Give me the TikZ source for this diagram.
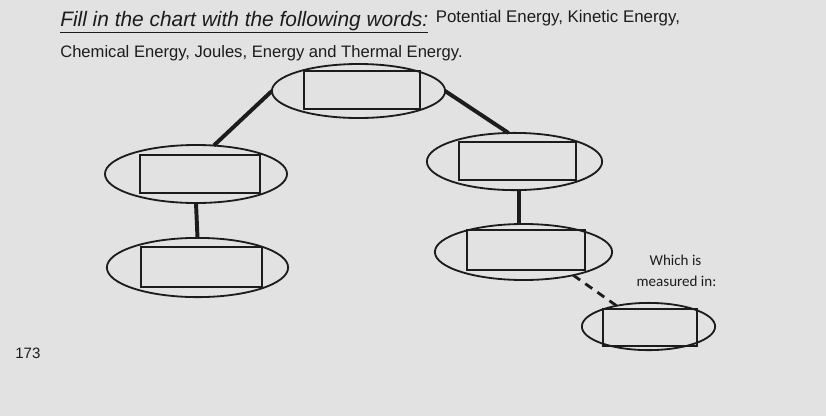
\documentclass[tikz,border=0pt]{standalone}
\usepackage{fontspec}
\setmainfont{Liberation Sans}
\newfontfamily\notefont{Carlito}
\usetikzlibrary{shapes.geometric}

\definecolor{paper}{RGB}{226,226,226}
\definecolor{ink}{RGB}{28,28,28}

\begin{document}
\begin{tikzpicture}[x=0.025cm,y=-0.025cm,
  blob/.style={ellipse,draw=ink,line width=1.3pt,inner sep=0pt,outer sep=0pt},
  slot/.style={rectangle,draw=ink,line width=1.3pt,inner sep=0pt,outer sep=0pt},
  link/.style={draw=ink,line width=2.8pt},
  words/.style={inner sep=0pt,anchor=base west,text=ink},
  note/.style={inner sep=0pt,anchor=base,text=ink,font=\notefont\fontsize{10.7}{13}\selectfont}]
  \fill[paper] (0,0) rectangle (826,416);
  \useasboundingbox (0,0) rectangle (826,416);

  % instructions
  \node[words] (title) at (60,26) {\fontsize{14.85}{17}\selectfont\underline{\textit{Fill in the chart with the following words:}}};
  \node[words,xshift=5pt,yshift=2.5pt] (list1) at (title.base east) {\fontsize{12}{14}\selectfont Potential Energy, Kinetic Energy,};
  \node[words] (list2) at (60,57) {\fontsize{11.8}{14}\selectfont Chemical Energy, Joules, Energy and Thermal Energy.};

  % chart
  \node[blob,minimum width=4.33cm,minimum height=1.35cm] (top) at (358.5,91) {};
  \node[slot,minimum width=2.9cm,minimum height=0.95cm] (topbox) at (362,90) {};
  \node[blob,minimum width=4.55cm,minimum height=1.45cm] (midL) at (196,174) {};
  \node[slot,minimum width=3cm,minimum height=0.95cm] (midLbox) at (200,174) {};
  \node[blob,minimum width=4.53cm,minimum height=1.48cm] (lowL) at (197.5,267.5) {};
  \node[slot,minimum width=3.03cm,minimum height=1cm] (lowLbox) at (201.5,267) {};
  \node[blob,minimum width=4.38cm,minimum height=1.43cm] (midR) at (514.5,161.5) {};
  \node[slot,minimum width=2.93cm,minimum height=0.95cm] (midRbox) at (517.5,161) {};
  \node[blob,minimum width=4.43cm,minimum height=1.4cm] (lowR) at (523.5,252) {};
  \node[slot,minimum width=2.95cm,minimum height=1cm] (lowRbox) at (526,250) {};
  \node[blob,minimum width=3.33cm,minimum height=1.18cm] (units) at (648.5,326.5) {};
  \node[slot,minimum width=2.35cm,minimum height=0.93cm] (unitsbox) at (650,327.5) {};

  \draw[link] (top.west) -- (midL.58);
  \draw[link] (top.east) -- (midR.102);
  \draw[link] (midL.south) -- (lowL.north);
  \draw[link] ([xshift=3.2pt]midR.south) -- ([xshift=-3.2pt]lowR.north);
  \draw[link,line width=2pt,dash pattern=on 6pt off 4.5pt] (lowR.-25) -- (units.147);

  \node[note] (which) at (675.5,265) {Which is};
  \node[note] (measured) at (676.5,286.5) {measured in:};

  % page number
  \node[words] (page) at (15,358) {\fontsize{10.7}{13}\selectfont 173};
\end{tikzpicture}
\end{document}
